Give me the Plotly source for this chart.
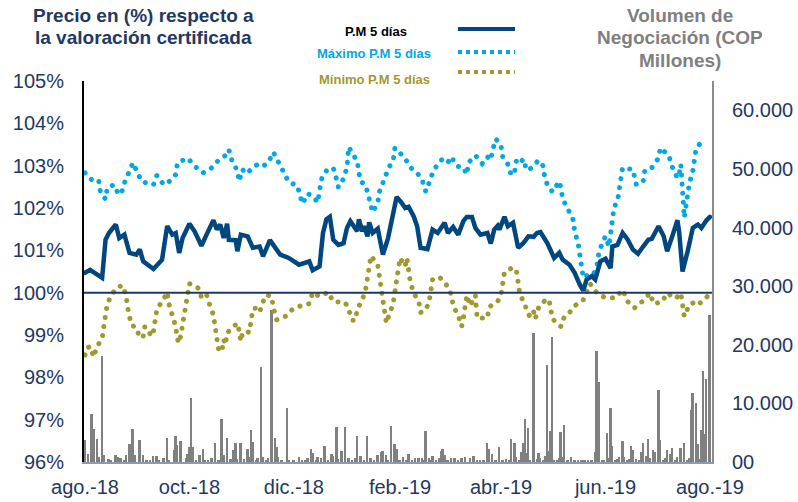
import plotly.graph_objects as go

# ---------------- data ----------------
pm_dates = ["2018-08-01","2018-08-04","2018-08-11","2018-08-13","2018-08-15","2018-08-19","2018-08-21","2018-08-24","2018-08-27","2018-08-31",
"2018-09-02","2018-09-04","2018-09-10","2018-09-15","2018-09-18","2018-09-21","2018-09-23","2018-09-25","2018-09-27","2018-10-01",
"2018-10-04","2018-10-08","2018-10-11","2018-10-15","2018-10-17","2018-10-19","2018-10-21","2018-10-23","2018-10-24","2018-10-28",
"2018-10-29","2018-10-31","2018-11-04","2018-11-07","2018-11-11","2018-11-13","2018-11-17","2018-11-20","2018-11-23","2018-11-28",
"2018-12-02","2018-12-04","2018-12-07","2018-12-10","2018-12-12","2018-12-16","2018-12-18","2018-12-20","2018-12-22","2018-12-24",
"2018-12-27","2018-12-30","2019-01-01","2019-01-03","2019-01-05","2019-01-07","2019-01-08","2019-01-10","2019-01-11","2019-01-13",
"2019-01-14","2019-01-16","2019-01-19","2019-01-22","2019-01-25","2019-01-27","2019-01-30","2019-02-02","2019-02-04","2019-02-06",
"2019-02-09","2019-02-11","2019-02-13","2019-02-17","2019-02-20","2019-02-23","2019-02-27","2019-03-01","2019-03-04","2019-03-07",
"2019-03-10","2019-03-12","2019-03-15","2019-03-17","2019-03-20","2019-03-24","2019-03-26","2019-03-28","2019-03-30","2019-03-31",
"2019-04-03","2019-04-05","2019-04-08","2019-04-11","2019-04-14","2019-04-17","2019-04-20","2019-04-22","2019-04-24","2019-04-28",
"2019-05-02","2019-05-05","2019-05-07","2019-05-11","2019-05-14","2019-05-17","2019-05-19","2019-05-21","2019-05-24","2019-05-26",
"2019-05-29","2019-06-01","2019-06-04","2019-06-05","2019-06-08","2019-06-11","2019-06-14","2019-06-17","2019-06-20","2019-06-23",
"2019-06-26","2019-06-28","2019-07-02","2019-07-05","2019-07-07","2019-07-10","2019-07-13","2019-07-14","2019-07-16","2019-07-19",
"2019-07-22","2019-07-25","2019-07-27","2019-07-30","2019-08-01"]
pm_values = [100.47,100.54,100.35,101.25,101.41,101.61,101.29,101.37,100.94,100.90,
101.02,100.74,100.56,100.78,101.57,101.37,101.41,100.94,101.29,101.63,
101.45,101.11,101.37,101.71,101.49,101.61,101.29,101.63,101.25,101.24,
100.98,101.37,101.33,101.06,101.09,100.86,101.24,101.09,100.90,100.82,
100.72,100.66,100.70,100.74,100.53,100.62,101.41,101.73,101.79,101.25,
101.13,101.17,101.53,101.69,101.57,101.45,101.73,101.45,101.57,101.33,
101.66,101.41,101.51,100.90,101.29,101.73,102.26,102.12,102.00,102.03,
101.80,101.57,101.06,101.03,101.49,101.41,101.65,101.41,101.55,101.37,
101.69,101.79,101.79,101.53,101.37,101.41,101.16,101.49,101.58,101.49,
101.79,101.57,101.65,101.06,101.17,101.33,101.32,101.41,101.43,101.17,
100.82,100.94,100.78,100.66,100.47,100.19,100.05,100.31,100.39,100.31,
100.74,100.80,100.58,101.09,101.13,101.41,101.25,101.02,100.92,101.09,
101.25,101.27,101.57,101.33,100.98,101.33,101.71,101.45,100.50,100.98,
101.53,101.61,101.53,101.71,101.79]

max_dates = ["2018-08-01","2018-08-04","2018-08-07","2018-08-09","2018-08-10","2018-08-13","2018-08-14","2018-08-18","2018-08-20","2018-08-22",
"2018-08-24","2018-08-27","2018-08-29","2018-09-01","2018-09-03","2018-09-06","2018-09-10","2018-09-12","2018-09-16","2018-09-20",
"2018-09-23","2018-09-24","2018-09-30","2018-10-04","2018-10-09","2018-10-14","2018-10-18","2018-10-22","2018-10-24","2018-10-26",
"2018-10-29","2018-10-30","2018-11-01","2018-11-03","2018-11-07","2018-11-10","2018-11-13","2018-11-16","2018-11-19","2018-11-22",
"2018-11-25","2018-11-28","2018-12-03","2018-12-05","2018-12-06","2018-12-09","2018-12-12","2018-12-15","2018-12-16","2018-12-17",
"2018-12-20","2018-12-24","2018-12-26","2018-12-27","2018-12-30","2019-01-01","2019-01-02","2019-01-06","2019-01-07","2019-01-08",
"2019-01-09","2019-01-12","2019-01-13","2019-01-14","2019-01-16","2019-01-19","2019-01-20","2019-01-23","2019-01-25","2019-01-28",
"2019-01-29","2019-01-31","2019-02-04","2019-02-07","2019-02-11","2019-02-14","2019-02-16","2019-02-17","2019-02-19","2019-02-22",
"2019-02-26","2019-03-01","2019-03-03","2019-03-06","2019-03-10","2019-03-12","2019-03-13","2019-03-17","2019-03-21","2019-03-24",
"2019-03-26","2019-03-27","2019-03-29","2019-04-01","2019-04-02","2019-04-05","2019-04-07","2019-04-09","2019-04-10","2019-04-12",
"2019-04-14","2019-04-16","2019-04-19","2019-04-22","2019-04-25","2019-04-26","2019-04-28","2019-05-01","2019-05-05","2019-05-06",
"2019-05-07","2019-05-10","2019-05-13","2019-05-14","2019-05-16","2019-05-17","2019-05-18","2019-05-19","2019-05-22","2019-05-25",
"2019-05-27","2019-05-28","2019-05-30","2019-06-01","2019-06-03","2019-06-04","2019-06-05","2019-06-06","2019-06-08","2019-06-09",
"2019-06-10","2019-06-11","2019-06-17","2019-06-18","2019-06-19","2019-06-23","2019-06-24","2019-06-28","2019-07-02","2019-07-03",
"2019-07-08","2019-07-10","2019-07-13","2019-07-14","2019-07-15","2019-07-16","2019-07-17","2019-07-18","2019-07-19","2019-07-20",
"2019-07-22","2019-07-23","2019-07-24","2019-07-29"]
max_values = [102.83,102.69,102.63,102.65,102.37,102.21,102.48,102.55,102.37,102.32,
102.59,102.84,103.07,102.81,102.63,102.59,102.55,102.77,102.55,102.65,
102.79,103.07,103.18,102.99,102.83,102.95,103.13,103.24,103.38,103.10,
102.88,102.63,102.91,102.81,102.95,103.04,102.99,103.07,103.32,103.10,
102.83,102.61,102.53,102.29,102.10,102.34,102.28,102.13,102.39,102.67,
102.88,102.95,102.67,102.49,102.69,102.96,103.44,103.18,103.10,102.83,
102.63,102.53,102.36,102.16,101.90,102.12,102.39,102.69,102.92,103.13,
103.42,103.34,103.17,102.96,102.83,102.65,102.39,102.47,102.73,102.97,
103.17,103.08,103.21,102.99,102.96,102.79,103.07,103.24,103.05,103.21,
103.13,103.36,103.63,103.48,103.20,103.03,102.77,102.87,103.12,103.05,
103.16,102.89,102.95,103.09,103.09,102.83,102.55,102.38,102.63,102.47,
102.21,101.98,101.73,101.45,101.17,100.90,100.64,100.35,100.43,100.43,
100.64,100.90,101.17,101.33,101.09,101.47,101.74,102.02,102.16,102.43,
102.71,102.95,102.91,102.63,102.55,102.63,102.89,102.95,103.18,103.42,
103.24,102.97,102.71,102.79,103.03,102.40,101.77,102.04,102.32,102.59,
102.87,103.14,103.42,103.64]

min_dates = ["2018-08-01","2018-08-02","2018-08-04","2018-08-06","2018-08-08","2018-08-11","2018-08-12","2018-08-13","2018-08-14","2018-08-17",
"2018-08-20","2018-08-23","2018-08-25","2018-08-26","2018-08-27","2018-08-28","2018-08-31","2018-09-02","2018-09-04","2018-09-05",
"2018-09-09","2018-09-10","2018-09-11","2018-09-12","2018-09-16","2018-09-18","2018-09-19","2018-09-21","2018-09-23","2018-09-24",
"2018-09-25","2018-09-26","2018-09-27","2018-09-28","2018-09-29","2018-09-30","2018-10-01","2018-10-05","2018-10-07","2018-10-08",
"2018-10-11","2018-10-13","2018-10-15","2018-10-16","2018-10-17","2018-10-18","2018-10-20","2018-10-21","2018-10-22","2018-10-23",
"2018-10-26","2018-10-29","2018-10-30","2018-10-31","2018-11-01","2018-11-03","2018-11-05","2018-11-06","2018-11-07","2018-11-09",
"2018-11-11","2018-11-13","2018-11-15","2018-11-18","2018-11-19","2018-11-21","2018-11-26","2018-11-30","2018-12-05","2018-12-10",
"2018-12-12","2018-12-16","2018-12-21","2018-12-24","2018-12-31","2019-01-02","2019-01-04","2019-01-06","2019-01-07","2019-01-10",
"2019-01-12","2019-01-13","2019-01-14","2019-01-15","2019-01-19","2019-01-20","2019-01-21","2019-01-22","2019-01-23","2019-01-24",
"2019-01-26","2019-01-28","2019-01-29","2019-01-30","2019-01-31","2019-02-01","2019-02-04","2019-02-05","2019-02-06","2019-02-07",
"2019-02-09","2019-02-12","2019-02-13","2019-02-16","2019-02-18","2019-02-19","2019-02-20","2019-02-24","2019-02-28","2019-03-03",
"2019-03-04","2019-03-07","2019-03-09","2019-03-10","2019-03-11","2019-03-12","2019-03-14","2019-03-17","2019-03-18","2019-03-24",
"2019-03-25","2019-03-30","2019-04-01","2019-04-02","2019-04-03","2019-04-08","2019-04-10","2019-04-11","2019-04-12","2019-04-15",
"2019-04-16","2019-04-18","2019-04-20","2019-04-21","2019-04-23","2019-04-27","2019-04-29","2019-04-30","2019-05-01","2019-05-06",
"2019-05-08","2019-05-11","2019-05-14","2019-05-19","2019-05-21","2019-05-23","2019-05-27","2019-05-31","2019-06-03","2019-06-07",
"2019-06-11","2019-06-14","2019-06-18","2019-06-23","2019-06-27","2019-06-29","2019-07-04","2019-07-07","2019-07-12","2019-07-15",
"2019-07-16","2019-07-17","2019-07-20","2019-07-23","2019-07-25","2019-07-28","2019-07-31"]
min_values = [98.53,98.69,98.73,98.48,98.73,98.91,99.20,99.48,99.74,99.98,
100.13,100.17,99.93,99.64,99.36,99.24,99.17,98.93,98.97,99.20,
98.97,99.09,99.35,99.61,99.85,100.01,99.74,99.48,99.20,98.90,
98.81,99.01,99.28,99.54,99.82,100.05,100.21,100.15,100.07,99.87,
99.95,99.69,99.48,99.19,98.91,98.65,98.61,98.89,98.77,99.05,
99.17,99.28,99.11,98.85,99.05,99.09,99.06,99.35,99.61,99.64,
99.54,99.79,99.95,99.91,99.64,99.36,99.44,99.60,99.69,99.74,
100.01,99.91,100.01,99.79,99.77,99.60,99.35,99.35,99.61,99.83,
100.10,100.35,100.62,100.87,100.65,100.39,100.09,99.82,99.53,99.28,
99.52,99.74,100.02,100.29,100.57,100.82,100.62,100.82,100.53,100.25,
99.99,99.79,99.53,99.60,99.78,100.03,100.31,100.37,100.19,99.95,
99.69,99.46,99.20,99.40,99.68,99.94,99.69,99.94,99.40,99.40,
99.66,99.79,99.95,100.24,100.48,100.60,100.50,100.24,99.95,99.73,
99.56,99.43,99.56,99.38,99.66,99.83,99.84,99.61,99.38,99.20,
99.44,99.53,99.69,99.83,100.05,100.21,99.99,99.90,99.88,99.88,
100.07,99.79,99.64,99.81,99.99,99.74,99.78,99.99,99.86,99.99,
99.72,99.44,99.72,99.77,99.71,99.84,99.93]

vol_dates = ["2018-08-01","2018-08-03","2018-08-05","2018-08-06","2018-08-08","2018-08-09","2018-08-11","2018-08-12","2018-08-15","2018-08-16",
"2018-08-19","2018-08-20","2018-08-22","2018-08-24","2018-08-25","2018-08-27","2018-08-29","2018-08-30","2018-09-02","2018-09-04",
"2018-09-06","2018-09-08","2018-09-10","2018-09-12","2018-09-13","2018-09-16","2018-09-18","2018-09-19","2018-09-22","2018-09-23",
"2018-09-24","2018-09-26","2018-09-29","2018-09-30","2018-10-01","2018-10-02","2018-10-03","2018-10-05","2018-10-07","2018-10-09",
"2018-10-10","2018-10-12","2018-10-14","2018-10-16","2018-10-18","2018-10-20","2018-10-21","2018-10-23","2018-10-25","2018-10-27",
"2018-10-28","2018-10-29","2018-10-31","2018-11-02","2018-11-04","2018-11-05","2018-11-06","2018-11-07","2018-11-09","2018-11-10",
"2018-11-12","2018-11-13","2018-11-15","2018-11-16","2018-11-18","2018-11-20","2018-11-21","2018-11-22","2018-11-24","2018-11-27",
"2018-11-28","2018-12-01","2018-12-04","2018-12-06","2018-12-08","2018-12-09","2018-12-11","2018-12-12","2018-12-14","2018-12-15",
"2018-12-17","2018-12-19","2018-12-21","2018-12-23","2018-12-24","2018-12-26","2018-12-27","2018-12-29","2018-12-31","2019-01-02",
"2019-01-04","2019-01-06","2019-01-07","2019-01-09","2019-01-11","2019-01-13","2019-01-15","2019-01-17","2019-01-19","2019-01-21",
"2019-01-22","2019-01-24","2019-01-25","2019-01-27","2019-01-29","2019-01-30","2019-01-31","2019-02-01","2019-02-03","2019-02-05",
"2019-02-06","2019-02-08","2019-02-10","2019-02-12","2019-02-14","2019-02-15","2019-02-16","2019-02-18","2019-02-19","2019-02-20",
"2019-02-22","2019-02-24","2019-02-25","2019-02-26","2019-02-27","2019-03-01","2019-03-03","2019-03-05","2019-03-07","2019-03-09",
"2019-03-11","2019-03-14","2019-03-16","2019-03-18","2019-03-20","2019-03-22","2019-03-24","2019-03-25","2019-03-27","2019-03-29",
"2019-03-31","2019-04-02","2019-04-04","2019-04-06","2019-04-07","2019-04-09","2019-04-10","2019-04-12","2019-04-13","2019-04-14",
"2019-04-15","2019-04-16","2019-04-17","2019-04-18","2019-04-20","2019-04-22","2019-04-23","2019-04-24","2019-04-26","2019-04-27",
"2019-04-28","2019-04-29","2019-04-30","2019-05-01","2019-05-02","2019-05-04","2019-05-05","2019-05-06","2019-05-07","2019-05-08",
"2019-05-10","2019-05-12","2019-05-14","2019-05-16","2019-05-18","2019-05-20","2019-05-22","2019-05-24","2019-05-26","2019-05-27",
"2019-05-28","2019-05-30","2019-05-31","2019-06-02","2019-06-03","2019-06-04","2019-06-05","2019-06-07","2019-06-08","2019-06-09",
"2019-06-11","2019-06-12","2019-06-14","2019-06-15","2019-06-16","2019-06-17","2019-06-19","2019-06-21","2019-06-22","2019-06-23",
"2019-06-25","2019-06-26","2019-06-27","2019-06-29","2019-06-30","2019-07-02","2019-07-03","2019-07-05","2019-07-06","2019-07-07",
"2019-07-09","2019-07-10","2019-07-12","2019-07-13","2019-07-15","2019-07-17","2019-07-19","2019-07-20","2019-07-21","2019-07-22",
"2019-07-24","2019-07-25","2019-07-26","2019-07-27","2019-07-28","2019-07-29","2019-07-30","2019-08-01"]
vol_values = [3700,1400,8200,5700,4000,800,18100,1150,500,300,
1150,800,600,400,1150,3150,5600,1150,3830,1150,
300,300,1000,1000,300,600,4150,400,2000,4500,
2970,3600,600,1400,2560,10840,2560,400,1150,2170,
400,300,700,3250,400,7400,1150,4100,500,2000,
3250,500,3250,500,2170,800,5530,3420,300,600,
16240,900,400,700,25900,4100,2560,800,300,9250,
300,200,900,300,200,600,2200,1500,300,800,
600,2670,300,1400,1100,5900,500,1800,6050,700,
300,600,4400,1100,300,4400,700,300,1250,1700,
1940,1250,300,6100,3080,2270,300,200,800,300,
1400,300,700,700,700,300,5300,700,400,1100,
300,700,1800,2200,1200,300,700,700,300,700,
900,600,1000,300,200,200,3300,2200,1400,300,
2500,300,500,300,3900,3300,800,300,1650,3250,
7300,1500,5750,300,22000,500,1500,700,300,1100,
16600,1800,5300,21300,400,300,700,5100,800,6300,
300,800,300,200,200,200,200,200,1700,19000,
13600,300,300,4900,700,9200,2700,300,500,900,
3500,900,300,500,2700,2000,500,300,1700,3250,
1000,3900,700,2000,1700,12300,3700,300,700,2100,
1300,2400,300,800,2400,3250,300,700,8900,11700,
10000,3100,500,5400,15600,4700,14100,25100]

x_tick_dates = ["2018-08-01","2018-10-01","2018-12-01","2019-02-01","2019-04-01","2019-06-01","2019-08-01"]
x_tick_labels = ["ago.-18","oct.-18","dic.-18","feb.-19","abr.-19","jun.-19","ago.-19"]
pct_ticks = [96,97,98,99,100,101,102,103,104,105]
pct_labels = ["96%","97%","98%","99%","100%","101%","102%","103%","104%","105%"]
vol_ticks = [0,10000,20000,30000,40000,50000,60000]
vol_labels = ["00","10.000","20.000","30.000","40.000","50.000","60.000"]

# ---------------- styles ----------------
FONT = "Liberation Sans, Arial, sans-serif"
NAVY_TXT = "#1F3864"
PM_COLOR = "#00467F"
MAX_COLOR = "#00A9E6"
MIN_COLOR = "#9E9A30"
BAR_COLOR = "#808080"
DOT_TRACE = "0.1px,9px"   # rendered as round dots (round line caps set after plotting)
DOT_LEGEND = "4px,4px"

fig = go.Figure()
fig.add_trace(go.Bar(x=vol_dates, y=vol_values, marker=dict(color=BAR_COLOR, line=dict(width=0)),
                     width=1.15 * 86400000, yaxis="y", showlegend=False))
fig.add_trace(go.Scatter(x=max_dates, y=max_values, mode="lines", yaxis="y2",
                         line=dict(color=MAX_COLOR, width=5, dash=DOT_TRACE), showlegend=False))
fig.add_trace(go.Scatter(x=min_dates, y=min_values, mode="lines", yaxis="y2",
                         line=dict(color=MIN_COLOR, width=5, dash=DOT_TRACE), showlegend=False))
fig.add_trace(go.Scatter(x=pm_dates, y=pm_values, mode="lines", yaxis="y2",
                         line=dict(color=PM_COLOR, width=4.5), showlegend=False))

# 100% reference line
fig.add_shape(type="line", xref="paper", x0=0, x1=1, yref="y2", y0=100, y1=100,
              line=dict(color="#1F3864", width=2))

def px_x(p):
    return (p - 84) / 628.0

def px_y(p):
    return (462 - p) / 381.0

# legend samples
fig.add_shape(type="line", xref="paper", yref="paper", x0=px_x(458), x1=px_x(515), y0=px_y(29), y1=px_y(29),
              line=dict(color=PM_COLOR, width=4))
fig.add_shape(type="line", xref="paper", yref="paper", x0=px_x(458), x1=px_x(515), y0=px_y(52), y1=px_y(52),
              line=dict(color=MAX_COLOR, width=4, dash=DOT_LEGEND))
fig.add_shape(type="line", xref="paper", yref="paper", x0=px_x(458), x1=px_x(515), y0=px_y(72), y1=px_y(72),
              line=dict(color=MIN_COLOR, width=4, dash=DOT_LEGEND))

anns = [
    ("<b>Precio en (%) respecto a</b>", 143.5, 16, 19, NAVY_TXT),
    ("<b>la valoración certificada</b>", 143, 38, 19, NAVY_TXT),
    ("<b>Volumen de</b>", 680, 16, 19, "#7F7F7F"),
    ("<b>Negociación (COP</b>", 680, 38, 19, "#7F7F7F"),
    ("<b>Millones)</b>", 680, 60, 19, "#7F7F7F"),
    ("<b>P.M 5 días</b>", 376, 32, 13, "#000000"),
    ("<b>Máximo P.M 5 días</b>", 374, 54, 13, MAX_COLOR),
    ("<b>Mínimo P.M 5 días</b>", 374, 80, 13, MIN_COLOR),
]
for txt, x, y, size, col in anns:
    fig.add_annotation(text=txt, xref="paper", yref="paper", x=px_x(x), y=px_y(y),
                       xanchor="center", yanchor="middle", showarrow=False,
                       font=dict(family=FONT, size=size, color=col))

fig.update_layout(
    template="none",
    width=798, height=502,
    margin=dict(l=84, r=86, t=81, b=40, autoexpand=False),
    paper_bgcolor="white", plot_bgcolor="white",
    font=dict(family=FONT, color=NAVY_TXT),
    bargap=0,
    xaxis=dict(type="date", range=["2018-07-31 10:00", "2019-08-02 05:00"], automargin=False,
               tickvals=x_tick_dates, ticktext=x_tick_labels, tickfont=dict(size=20, color=NAVY_TXT),
               showgrid=False, zeroline=False, showline=True, linecolor="#8C9BB0", linewidth=2,
               ticks="", ticklabelstandoff=6),
    yaxis=dict(side="right", range=[0, 65000], tickvals=vol_ticks, ticktext=vol_labels, automargin=False,
               tickfont=dict(size=20, color=NAVY_TXT), showgrid=False, zeroline=False,
               showline=True, linecolor="#8C8C8C", linewidth=2, ticks="", ticklabelstandoff=14),
    yaxis2=dict(side="left", overlaying="y", range=[96, 105], tickvals=pct_ticks, ticktext=pct_labels,
                automargin=False,
                tickfont=dict(size=20, color=NAVY_TXT), showgrid=False, zeroline=False,
                showline=True, linecolor="#000000", linewidth=2, ticks="", ticklabelstandoff=14),
)

post = """
document.body.style.margin='0';document.body.style.overflow='hidden';
var gd = document.getElementById('{plot_id}');
function roundCaps(){
  gd.querySelectorAll('.scatterlayer .js-line').forEach(function(p){
    p.style.strokeLinecap = 'round';
  });
}
roundCaps();
if (gd.on) { gd.on('plotly_afterplot', roundCaps); }
"""
fig.write_html("out.html", config={"displayModeBar": False}, post_script=post)
